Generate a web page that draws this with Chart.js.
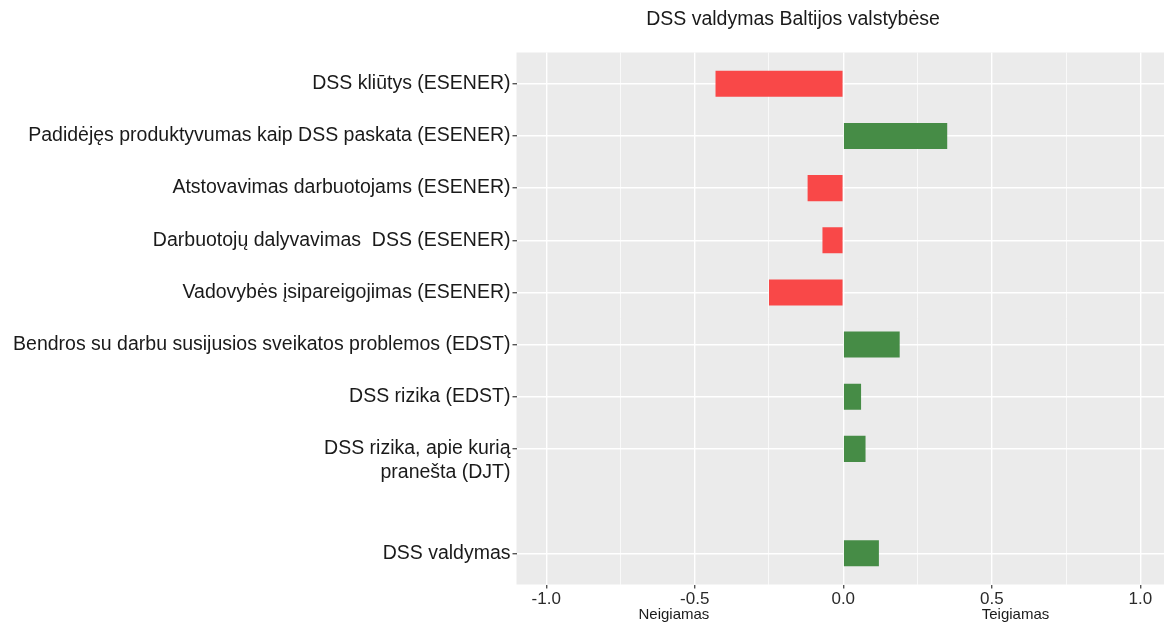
<!DOCTYPE html>
<html lang="lt">
<head>
    <meta charset="UTF-8">
    <title>DSS valdymas Baltijos valstybėse</title>
    <script src="https://cdn.jsdelivr.net/npm/chart.js"></script>
    <style>
        html, body { margin: 0; padding: 0; overflow: hidden; background: white; }
        #chart-container { width: 1172px; height: 623px; }
    </style>
</head>
<body>
    <div id="chart-container">
        <canvas id="dssChart"></canvas>
    </div>

    <script>
        // rodikliai (tuščia vieta prieš "DSS valdymas")
        // tuščia pirma eilutė, kad pirmoji teksto eilutė būtų ties žyme
        const categories = [
            'DSS kliūtys (ESENER)',
            'Padidėjęs produktyvumas kaip DSS paskata (ESENER)',
            'Atstovavimas darbuotojams (ESENER)',
            'Darbuotojų dalyvavimas  DSS (ESENER)',
            'Vadovybės įsipareigojimas (ESENER)',
            'Bendros su darbu susijusios sveikatos problemos (EDST)',
            'DSS rizika (EDST)',
            ['', 'DSS rizika, apie kurią', 'pranešta (DJT)'],
            '',
            'DSS valdymas'
        ];
        const values = [-0.43, 0.35, -0.12, -0.07, -0.25, 0.19, 0.06, 0.075, null, 0.12];
        const xTicks = [-1, -0.75, -0.5, -0.25, 0, 0.25, 0.5, 0.75, 1];
        const xMajor = [-1, -0.5, 0, 0.5, 1];

        const RED = '#F94848';
        const GREEN = '#468C46';
        const FONT = '"Liberation Sans", Arial, sans-serif';

        const points = values
            .map((v, i) => ({ x: v, y: i }))
            .filter(p => p.x !== null);

        const panelBg = {
            id: 'panelBg',
            beforeDraw(chart) {
                const { ctx, chartArea: a } = chart;
                ctx.save();
                ctx.fillStyle = '#EBEBEB';
                ctx.fillRect(a.left, a.top, a.right - a.left, a.bottom - a.top);
                ctx.restore();
            }
        };

        const texts = {
            id: 'texts',
            afterDraw(chart) {
                const { ctx } = chart;
                const xs = chart.scales.x;
                ctx.save();
                ctx.fillStyle = '#1a1a1a';
                ctx.textAlign = 'center';
                ctx.textBaseline = 'middle';
                ctx.font = '19.5px ' + FONT;
                ctx.fillText('DSS valdymas Baltijos valstybėse', 793, 20);
                ctx.font = '15px ' + FONT;
                ctx.fillText('Neigiamas', xs.getPixelForValue(-0.57), 615);
                ctx.fillText('Teigiamas', xs.getPixelForValue(0.58), 615);
                ctx.restore();
            }
        };

        new Chart(document.getElementById('dssChart'), {
            type: 'bar',
            data: {
                datasets: [{
                    data: points,
                    backgroundColor: points.map(p => p.x < 0 ? RED : GREEN),
                    borderWidth: 0,
                    barPercentage: 0.5,
                    categoryPercentage: 1
                }]
            },
            options: {
                indexAxis: 'y',
                responsive: true,
                maintainAspectRatio: false,
                animation: false,
                layout: { padding: { top: 52.5, right: 2, left: 0, bottom: 0 } },
                plugins: {
                    legend: { display: false },
                    tooltip: { enabled: false }
                },
                scales: {
                    x: {
                        type: 'linear',
                        min: -1.1,
                        max: 1.1,
                        offset: false,
                        afterBuildTicks(scale) {
                            scale.ticks = xTicks.map(v => ({ value: v }));
                        },
                        afterFit(scale) { scale.height = 38.5; },
                        border: { display: false },
                        grid: {
                            offset: false,
                            color: '#FFFFFF',
                            lineWidth: c => xMajor.includes(c.tick ? c.tick.value : null) ? 1.4 : 0.7,
                            tickLength: 4,
                            tickColor: c => xMajor.includes(c.tick ? c.tick.value : null) ? '#555555' : 'rgba(0,0,0,0)'
                        },
                        ticks: {
                            autoSkip: false,
                            maxRotation: 0,
                            padding: 1,
                            color: '#2a2a2a',
                            font: { family: FONT, size: 17 },
                            callback: v => xMajor.includes(v) ? v.toFixed(1) : ''
                        }
                    },
                    y: {
                        type: 'linear',
                        reverse: true,
                        min: -0.6,
                        max: 9.6,
                        offset: false,
                        afterBuildTicks(scale) {
                            scale.ticks = categories.map((c, i) => ({ value: i }));
                        },
                        afterFit(scale) { scale.width = 516.5; },
                        border: { display: false },
                        grid: {
                            offset: false,
                            color: c => categories[c.tick ? c.tick.value : 0] === '' ? 'rgba(0,0,0,0)' : '#FFFFFF',
                            lineWidth: 1.4,
                            tickLength: 4,
                            tickColor: c => categories[c.tick ? c.tick.value : 0] === '' ? 'rgba(0,0,0,0)' : '#555555'
                        },
                        ticks: {
                            autoSkip: false,
                            padding: 2,
                            color: '#1a1a1a',
                            font: { family: FONT, size: 19.5 },
                            callback: v => categories[v]
                        }
                    }
                }
            },
            plugins: [panelBg, texts]
        });
    </script>
</body>
</html>
